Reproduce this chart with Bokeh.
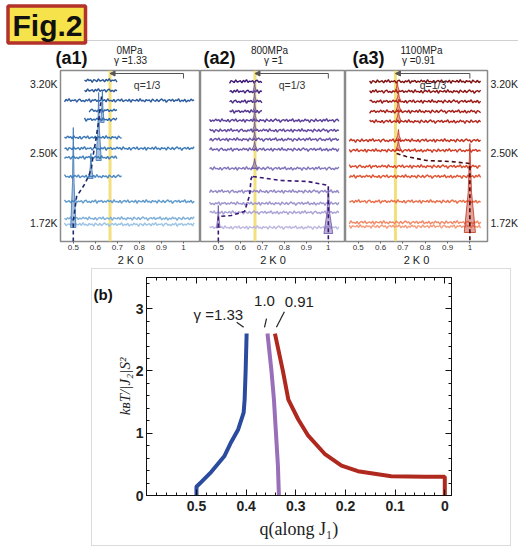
import numpy as np
from bokeh.plotting import figure
from bokeh.layouts import column, row
from bokeh.models import (Range1d, LinearAxis, FixedTicker, Label, Arrow, NormalHead, Span, Spacer,
                          CustomLabelingPolicy)
from bokeh.core.properties import value
from bokeh.embed import file_html
from bokeh.resources import INLINE

# ---------------- data ----------------
# hand-read wiggle pattern of the scans (relative units)
NOISE = [0.2, -0.4, 0.7, -0.1, 0.3, -0.9, 0.5, 0.1, -0.6, 0.8, -0.3, 0.0, 0.4, -0.7, 0.6, -0.2, 0.9, -0.5, 0.2, -0.1,
         0.5, -0.8, 0.3, 0.7, -0.4, 0.1, -0.6, 0.4, -0.2, 0.8, -0.9, 0.3, 0.0, 0.6, -0.5, 0.2, -0.3, 0.7, -0.1, 0.4,
         -0.7, 0.9, -0.2, 0.1, -0.5, 0.6, -0.8, 0.2, 0.5, -0.3, 0.8, -0.6, 0.0, 0.3, -0.4, 0.7, -0.9, 0.4, 0.1, -0.2,
         0.6, -0.5, 0.9, -0.3, 0.2, -0.7, 0.5, -0.1, 0.3, -0.8, 0.7, 0.0, -0.4, 0.6, -0.6, 0.2, 0.8, -0.2, 0.4, -0.9,
         0.1, 0.5, -0.3, 0.7, -0.5, 0.3, -0.1, 0.9, -0.7, 0.2, -0.4, 0.6, -0.8]
Q_GRID = [round(0.46 + 0.007 * i, 3) for i in range(85)]

TICKS_2K0 = [0.5, 0.6, 0.7, 0.8, 0.9, 1.0]
TEMP_POS = [19, 89, 158]
TEMP_LABELS = ["1.72K", "2.50K", "3.20K"]

# (a1) 0 MPa, gamma = 1.33
A1_BASE = [161, 151, 141, 131, 122, 104, 93, 84, 65, 40, 23, 17]
A1_QMIN = [0.55, 0.55, 0.46, 0.57, 0.55, 0.46, 0.46, 0.46, 0.46, 0.46, 0.46, 0.46]
A1_QMAX = [0.70, 0.70, 1.05, 0.70, 0.70, 0.72, 1.05, 0.70, 0.72, 1.05, 1.05, 1.05]
A1_SHIFT = [0, 7, 13, 21, 29, 35, 3, 17, 41, 9, 25, 50]
A1_COLORS = ["#2a5596", "#2a5596", "#2c5c9f", "#2e62a6", "#3067ab", "#3a76b6",
             "#3d7bb9", "#4281bd", "#4d8ac3", "#5f9acb", "#7fb0d8", "#9cc4e4"]
A1_PK_Q = [0.50, 0.58, 0.615, 0.632]
A1_PK_BASE = [14, 63, 81, 119]
A1_PK_TOP = [114, 88, 149, 151]
A1_PK_HW = [0.012, 0.010, 0.012, 0.008]
A1_DASH = [([0.5, 0.5, 0.515, 0.548, 0.571, 0.582, 0.59, 0.601, 0.615, 0.628],
            [0, 20, 45, 56, 66, 73, 86, 100, 120, 145])]

# (a2) 800 MPa, gamma = 1
A2_BASE = [160, 150, 140, 130, 121, 111, 102, 92, 73, 50, 38, 29, 14]
A2_QMIN = [0.55, 0.55, 0.55, 0.55, 0.45, 0.45, 0.45, 0.45, 0.45, 0.45, 0.45, 0.44, 0.45]
A2_QMAX = [0.70, 0.70, 0.70, 0.70, 1.05, 1.05, 1.05, 1.05, 1.05, 1.05, 1.05, 1.05, 1.05]
A2_SHIFT = [5, 11, 19, 27, 33, 2, 44, 15, 38, 8, 23, 47, 31]
A2_COLORS = ["#3b1775", "#42207e", "#4a2a87", "#52348f", "#5b3f98", "#6249a0", "#6a54a6",
             "#725faf", "#8476bd", "#9389c7", "#9d95cd", "#aaa3d5", "#bdb8e0"]
A2_PK_Q = [0.665, 0.665, 0.665, 0.665, 0.665, 0.665, 0.665, 0.665, 1.0, 0.5]
A2_PK_BASE = [73, 92, 102, 111, 121, 130, 140, 150, 8, 14]
A2_PK_TOP = [83, 100, 110, 120, 132, 140, 150, 160, 54, 36]
A2_PK_HW = [0.015, 0.012, 0.010, 0.010, 0.010, 0.008, 0.008, 0.008, 0.02, 0.008]
A2_DASH = [([0.5, 0.5, 0.558, 0.619, 0.642, 0.649, 0.657], [0, 25, 26, 30, 46, 63, 66]),
           ([0.657, 0.786, 0.908, 1.0, 1.0], [65, 61, 60, 56, 0])]

# (a3) 1100 MPa, gamma = 0.91
A3_BASE = [160, 150, 140, 130, 120, 101, 91, 75, 65, 40, 19, 15]
A3_QMIN = [0.55, 0.55, 0.55, 0.55, 0.55, 0.46, 0.46, 0.46, 0.46, 0.46, 0.46, 0.46]
A3_QMAX = [1.05] * 12
A3_SHIFT = [4, 12, 22, 30, 37, 1, 45, 16, 26, 10, 40, 55]
A3_COLORS = ["#7d0f0f", "#8c1414", "#991a17", "#a61f19", "#b2261c", "#c4321f",
             "#ce3c24", "#d9492b", "#df5432", "#e86e49", "#f08a66", "#f59c7c"]
A3_PK_Q = [0.68, 0.68, 0.68, 0.68, 0.68, 0.675, 1.0]
A3_PK_BASE = [91, 101, 120, 130, 140, 150, 9]
A3_PK_TOP = [103, 112, 132, 142, 150, 160, 98]
A3_PK_HW = [0.012, 0.012, 0.012, 0.012, 0.012, 0.010, 0.025]
A3_DASH = [([0.672, 0.715, 0.806, 0.912, 1.0, 1.0], [88, 85, 81, 80, 78, 0])]

# (b) phase boundaries
BLUE_Q = [0.5, 0.5, 0.49, 0.47, 0.444, 0.43, 0.416, 0.405, 0.403, 0.401, 0.399]
BLUE_T = [0.0, 0.14, 0.22, 0.38, 0.63, 0.86, 1.06, 1.33, 1.54, 2.0, 2.6]
PURPLE_Q = [0.334, 0.336, 0.340, 0.344, 0.349, 0.357]
PURPLE_T = [0.0, 0.48, 1.01, 1.54, 2.0, 2.6]
RED_Q = [0.342, 0.326, 0.315, 0.295, 0.275, 0.242, 0.208, 0.175, 0.108, 0.041, 0.0, 0.0]
RED_T = [2.6, 2.0, 1.54, 1.22, 0.96, 0.67, 0.48, 0.39, 0.31, 0.30, 0.30, 0.0]
B_XTICKS = [0.5, 0.4, 0.3, 0.2, 0.1, 0.0]
B_YTICKS = [0, 1, 2, 3]

SANS = "Liberation Sans"
SERIF = "Liberation Serif"

# ---------------- header (badge + panel titles) ----------------
HDR_H = 69
hdr = figure(frame_width=518, frame_height=HDR_H, x_range=Range1d(0, 518), y_range=Range1d(0, HDR_H),
             output_backend="svg", toolbar_location=None, min_border=0, title=None,
             x_axis_location=None, y_axis_location=None)
hdr.outline_line_color = None
hdr.xgrid.visible = False
hdr.ygrid.visible = False
hdr.segment(x0=[86], y0=[29], x1=[518], y1=[29], line_color="#d0d0d0", line_width=1)
hdr.quad(left=[7.5], right=[85], bottom=[26.5], top=[63.5], fill_color="#f6e24a",
         line_color="#b3322a", line_width=3.5)
hdr.text(x=[47], y=[44.5], text=["Fig.2"], text_align="center", text_baseline="middle",
         text_font=value(SANS), text_font_size="30px", text_font_style="bold", text_color="#111111")
hdr.text(x=[55, 203, 352], y=[11.5, 11.5, 11.5], text=["(a1)", "(a2)", "(a3)"], text_align="left",
         text_baseline="middle", text_font=value(SANS), text_font_size="18px",
         text_font_style="bold", text_color="#111111")
hdr.text(x=[129, 269, 421], y=[19, 19, 19], text=["0MPa", "800MPa", "1100MPa"], text_align="center",
         text_baseline="middle", text_font=value(SANS), text_font_size="10px", text_color="#222222")
hdr.text(x=[130, 273, 418], y=[9, 9, 9], text=["\u03b3 =1.33", "\u03b3 =1", "\u03b3 =0.91"],
         text_align="center", text_baseline="middle", text_font=value(SANS),
         text_font_size="10px", text_color="#222222")


# ---------------- top panels ----------------
def top_panel(fw, bl, br, xr, yloc, bases, qmins, qmaxs, shifts, colors,
              pk_q, pk_b, pk_t, pk_hw, pk_color, dashes, dash_color):
    p = figure(frame_width=fw, frame_height=171, x_range=Range1d(*xr), y_range=Range1d(0, 171),
               output_backend="svg", toolbar_location=None, title=None,
               min_border_left=bl, min_border_right=br, min_border_top=1, min_border_bottom=22,
               y_axis_location=yloc)
    p.xgrid.visible = False
    p.ygrid.visible = False
    p.outline_line_color = "#8a8a8a"
    p.outline_line_width = 1.5
    ax = p.below[0]
    ax.ticker = FixedTicker(ticks=TICKS_2K0)
    ax.major_label_text_font_size = "8px"
    ax.major_label_text_font = SANS
    ax.major_label_text_color = "#333333"
    ax.major_tick_out = 2
    ax.major_tick_in = 0
    ax.major_tick_line_color = "#666666"
    ax.minor_tick_line_color = None
    ax.minor_tick_out = 0
    ax.minor_tick_in = 0
    ax.axis_line_color = None
    ax.major_label_standoff = 1
    ax.axis_label = "2 K 0"
    ax.axis_label_text_font = SANS
    ax.axis_label_text_font_style = "normal"
    ax.axis_label_text_font_size = "11px"
    ax.axis_label_text_color = "#222222"
    ax.axis_label_standoff = 1
    if yloc is not None:
        ay = p.left[0] if yloc == "left" else p.right[0]
        ay.ticker = FixedTicker(ticks=TEMP_POS)
        ay.major_label_overrides = {pos: lab for pos, lab in zip(TEMP_POS, TEMP_LABELS)}
        ay.major_label_text_font = SANS
        ay.major_label_text_font_size = "10.5px"
        ay.major_label_text_color = "#222222"
        ay.major_tick_line_color = None
        ay.minor_tick_line_color = None
        ay.major_tick_out = 0
        ay.major_tick_in = 0
        ay.minor_tick_out = 0
        ay.minor_tick_in = 0
        ay.axis_line_color = None
        ay.major_label_standoff = 3

    p.add_layout(Span(location=2 / 3, dimension="height", line_color="#f3df7c",
                      line_width=3, level="underlay"))

    # scans
    for base, q0, q1, sh, col in zip(bases, qmins, qmaxs, shifts, colors):
        xs = [q for q in Q_GRID if q0 - 1e-9 <= q <= q1 + 1e-9]
        ys = [base + 2.0 * NOISE[(sh + i) % len(NOISE)] for i in range(len(xs))]
        p.line(xs, ys, line_color=col, line_width=1.4)

    # shaded peaks
    for qc, b, t, hw in zip(pk_q, pk_b, pk_t, pk_hw):
        p.patch([qc - hw, qc - hw * 0.3, qc, qc + hw * 0.3, qc + hw],
                [b, b + (t - b) * 0.45, t, b + (t - b) * 0.45, b],
                fill_color=pk_color, fill_alpha=0.45, line_color=pk_color, line_alpha=0.8, line_width=1)

    for dq, dy in dashes:
        p.line(dq, dy, line_color=dash_color, line_dash="4 3", line_width=1.6)

    # q=1/3 bracket
    p.add_layout(Arrow(x_start=1.0, y_start=168, x_end=2 / 3, y_end=168,
                       end=NormalHead(size=5, fill_color="#555555", line_color="#555555"),
                       line_color="#555555", line_width=1))
    p.segment(x0=[1.0], y0=[168], x1=[1.0], y1=[163], line_color="#555555", line_width=1)
    p.add_layout(Label(x=0.835, y=157, text="q=1/3", text_align="center", text_baseline="middle",
                       text_font=SANS, text_font_size="10.5px", text_color="#333333"))
    return p


a1 = top_panel(140, 60, 0, (0.442, 1.077), "left", A1_BASE, A1_QMIN, A1_QMAX, A1_SHIFT, A1_COLORS,
               A1_PK_Q, A1_PK_BASE, A1_PK_TOP, A1_PK_HW, "#3b74b4", A1_DASH, "#1d2b6b")
a2 = top_panel(145, 0, 0, (0.419, 1.078), None, A2_BASE, A2_QMIN, A2_QMAX, A2_SHIFT, A2_COLORS,
               A2_PK_Q, A2_PK_BASE, A2_PK_TOP, A2_PK_HW, "#6a54a6", A2_DASH, "#3b1775")
a3 = top_panel(142, 0, 31, (0.443, 1.079), "right", A3_BASE, A3_QMIN, A3_QMAX, A3_SHIFT, A3_COLORS,
               A3_PK_Q, A3_PK_BASE, A3_PK_TOP, A3_PK_HW, "#c4321f", A3_DASH, "#4a0c0c")

# ---------------- panel (b) ----------------
PB_H = 276
ldec = figure(frame_width=21, frame_height=PB_H, x_range=Range1d(0, 21), y_range=Range1d(0, PB_H),
              output_backend="svg", toolbar_location=None, min_border=0, title=None,
              x_axis_location=None, y_axis_location=None)
ldec.outline_line_color = None
ldec.xgrid.visible = False
ldec.ygrid.visible = False
ldec.text(x=[1], y=[259], text=["(b)"], text_align="left", text_baseline="middle",
          text_font=value(SANS), text_font_size="15px", text_font_style="bold", text_color="#111111")

pb = figure(frame_width=305, frame_height=218, x_range=Range1d(0.6006, -0.0135), y_range=Range1d(0, 3.5),
            output_backend="svg", toolbar_location=None, title=None,
            min_border_left=30, min_border_right=59, min_border_top=8, min_border_bottom=50)
pb.xgrid.visible = False
pb.ygrid.visible = False
pb.outline_line_color = "#111111"
pb.outline_line_width = 1

XMINOR = [round(0.6 - 0.02 * i, 2) for i in range(31)]
YMINOR = [round(0.2 * i, 1) for i in range(18)]

NO_LABELS = CustomLabelingPolicy(code="""
try {
  const Cls = indices.constructor;
  return new Cls(indices.size, 0);
} catch (e) {
  return indices;
}
""")

x_bot = pb.below[0]
y_lef = pb.left[0]
x_top = LinearAxis()
y_rig = LinearAxis()
pb.add_layout(x_top, "above")
pb.add_layout(y_rig, "right")
for ax in (x_bot, x_top):
    ax.ticker = FixedTicker(ticks=B_XTICKS, minor_ticks=XMINOR)
for ax in (y_lef, y_rig):
    ax.ticker = FixedTicker(ticks=B_YTICKS, minor_ticks=YMINOR)
for ax in (x_bot, x_top, y_lef, y_rig):
    ax.major_tick_in = 6
    ax.major_tick_out = 0
    ax.minor_tick_in = 3
    ax.minor_tick_out = 0
    ax.axis_line_color = "#111111"
    ax.major_tick_line_color = "#111111"
    ax.minor_tick_line_color = "#111111"
    ax.major_label_text_font = SANS
    ax.major_label_text_font_size = "14px"
    ax.major_label_text_font_style = "bold"
    ax.major_label_text_color = "#222222"
    ax.major_label_standoff = 5
for ax in (x_top, y_rig):
    ax.major_label_policy = NO_LABELS
    ax.major_label_text_font_size = "0px"
    ax.major_label_standoff = 0
x_bot.axis_label = "q(along J\u2081)"
x_bot.axis_label_text_font = SERIF
x_bot.axis_label_text_font_style = "normal"
x_bot.axis_label_text_font_size = "18px"
x_bot.axis_label_text_color = "#222222"
x_bot.axis_label_standoff = 5
y_lef.major_label_standoff = 3
y_lef.axis_label = "k\u0299T/|J\u2082|S\u00b2"
y_lef.axis_label_text_font = SERIF
y_lef.axis_label_text_font_style = "italic"
y_lef.axis_label_text_font_size = "15px"
y_lef.axis_label_text_color = "#222222"
y_lef.axis_label_standoff = 0

pb.line(BLUE_Q, BLUE_T, line_color="#2b4c9e", line_width=4)
pb.line(PURPLE_Q, PURPLE_T, line_color="#9a6fb9", line_width=4)
pb.line(RED_Q, RED_T, line_color="#b0291f", line_width=4)

pb.segment(x0=[0.419, 0.359, 0.323], y0=[2.78, 2.84, 2.95], x1=[0.405, 0.363, 0.339],
           y1=[2.70, 2.70, 2.70], line_color="#222222", line_width=1.2)
pb.text(x=[0.456, 0.363, 0.293], y=[2.9, 3.13, 3.10], text=["\u03b3 =1.33", "1.0", "0.91"],
        text_align="center", text_baseline="middle", text_font=value(SANS),
        text_font_size="15px", text_color="#222222")

b_box = row(ldec, pb, spacing=0, styles={"border": "1px solid #dcdcdc"})
layout = column(hdr, row(a1, a2, a3, spacing=0), row(Spacer(width=91, height=10), b_box, spacing=0),
                spacing=0)
open("out.html", "w").write(file_html(layout, INLINE))
